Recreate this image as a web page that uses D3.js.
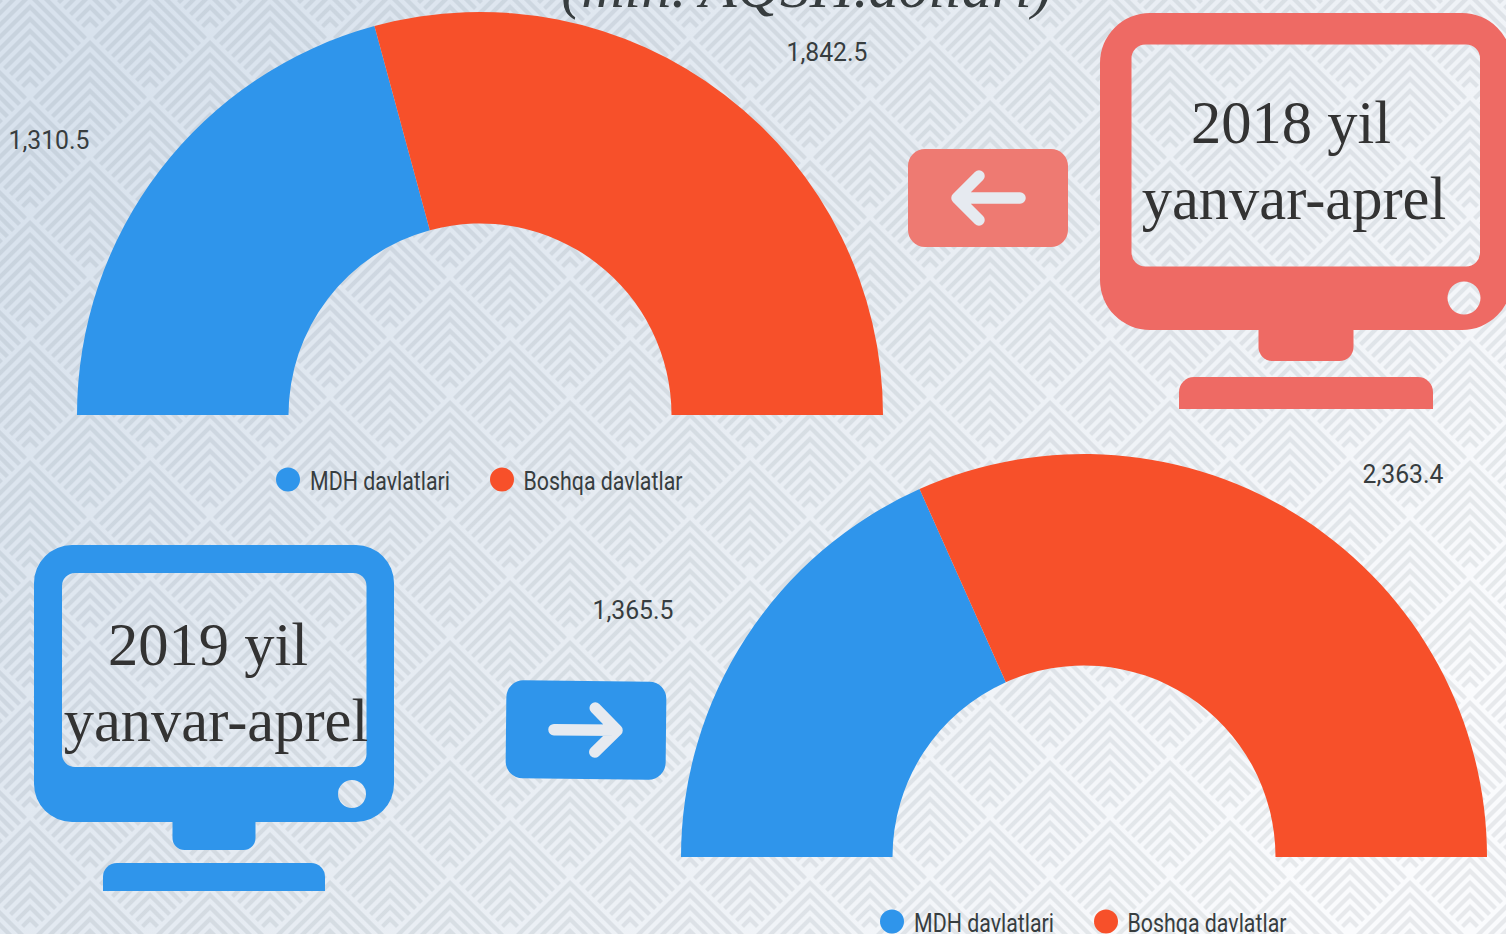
<!DOCTYPE html>
<html><head><meta charset="utf-8">
<script src="https://cdn.jsdelivr.net/npm/d3@7"></script>
<style>html,body{margin:0;padding:0;overflow:hidden;background:#e6ebf2}svg{display:block}</style>
</head><body><svg id="c" width="1506" height="934"></svg>
<script>
const categories=["MDH davlatlari","Boshqa davlatlar"];
const colors=["#2f95eb","#f7502a"];
const values2018=[1310.5,1842.5];
const values2019=[1365.5,2363.4];
const titleText="(mln. AQSH.dollari)";
const year2018=["2018 yil","yanvar-aprel"];
const year2019=["2019 yil","yanvar-aprel"];
const svg=d3.select("#c");
const defs=svg.append("defs");
const grad=defs.append("linearGradient").attr("id","bg").attr("x1",0).attr("y1",0.2).attr("x2",1).attr("y2",0.7);
[[0,"#d8e2ed"],[0.5,"#e8edf3"],[1,"#fafbfd"]].forEach(d=>grad.append("stop").attr("offset",d[0]).attr("stop-color",d[1]));
const pat=defs.append("pattern").attr("id","chev").attr("patternUnits","userSpaceOnUse").attr("width",120).attr("height",120);
function cell(g,cx,cy){
  for(let t=6;t<=102;t+=12){
    const a=(120-t)/2-1.5;
    g.append("path").attr("d",`M${cx-a} ${cy+t+a}L${cx} ${cy+t}L${cx+a} ${cy+t+a}`)
     .attr("fill","none").attr("stroke","#404b55").attr("stroke-opacity",0.1).attr("stroke-width",4.2);
  }
}
const pg=pat.append("g");
[[90,37],[-30,37],[30,97],[150,97],[30,-23],[150,-23],[90,-83],[-30,-83]].forEach(c=>cell(pg,c[0],c[1]));
svg.append("rect").attr("width",1506).attr("height",934).attr("fill","url(#bg)");
svg.append("rect").attr("width",1506).attr("height",934).attr("fill","url(#chev)");

const pie=d3.pie().sort(null).startAngle(-Math.PI/2).endAngle(Math.PI/2);
const arc=d3.arc().innerRadius(191.5).outerRadius(403);
function gauge(vals,cx,cy,labels,lx){
  const g=svg.append("g").attr("transform",`translate(${cx},${cy})`);
  g.selectAll("path").data(pie(vals)).join("path").attr("d",arc).attr("fill",(d,i)=>colors[i]);
  vals.forEach((v,i)=>svg.append("text").attr("x",labels[i][0]).attr("y",labels[i][1])
    .attr("text-anchor","middle").attr("font-family","Roboto").attr("font-size",26).attr("fill","#373d3f")
    .attr("textLength",81).attr("lengthAdjust","spacingAndGlyphs").text(d3.format(",.1f")(v)));
  const pos=[[lx,lx+22,140],[lx+214,lx+235.5,159]];
  categories.forEach((c,i)=>{
    svg.append("circle").attr("cx",pos[i][0]).attr("cy",cy+64.5).attr("r",12).attr("fill",colors[i]);
    svg.append("text").attr("x",pos[i][1]).attr("y",cy+75).attr("font-family","Roboto").attr("font-size",25.5).attr("fill","#373d3f")
      .attr("textLength",pos[i][2]).attr("lengthAdjust","spacingAndGlyphs").text(c);
  });
}
gauge(values2018,480,415,[[49,149],[827,61]],288);
gauge(values2019,1084,857,[[633,619],[1403,483]],892);

svg.append("text").attr("x",806.5).attr("y",7).attr("text-anchor","middle").attr("font-family","Liberation Serif").attr("font-style","italic")
  .attr("font-size",60).attr("fill","#373d3f").text(titleText);

function monitor(x,y,w,h,r,ix,iy,iw,ih,ir,col,btn,neck,base){
  let d=`M${x+r} ${y}H${x+w-r}A${r} ${r} 0 0 1 ${x+w} ${y+r}V${y+h-r}A${r} ${r} 0 0 1 ${x+w-r} ${y+h}H${x+r}A${r} ${r} 0 0 1 ${x} ${y+h-r}V${y+r}A${r} ${r} 0 0 1 ${x+r} ${y}Z`;
  d+=`M${ix+ir} ${iy}A${ir} ${ir} 0 0 0 ${ix} ${iy+ir}V${iy+ih-ir}A${ir} ${ir} 0 0 0 ${ix+ir} ${iy+ih}H${ix+iw-ir}A${ir} ${ir} 0 0 0 ${ix+iw} ${iy+ih-ir}V${iy+ir}A${ir} ${ir} 0 0 0 ${ix+iw-ir} ${iy}Z`;
  d+=`M${btn[0]-btn[2]} ${btn[1]}a${btn[2]} ${btn[2]} 0 1 0 ${2*btn[2]} 0a${btn[2]} ${btn[2]} 0 1 0 ${-2*btn[2]} 0Z`;
  svg.append("path").attr("d",d).attr("fill",col).attr("fill-rule","evenodd");
  const [nx,ny,nw,nh,nr]=neck;
  svg.append("path").attr("fill",col).attr("d",`M${nx} ${ny}H${nx+nw}V${ny+nh-nr}A${nr} ${nr} 0 0 1 ${nx+nw-nr} ${ny+nh}H${nx+nr}A${nr} ${nr} 0 0 1 ${nx} ${ny+nh-nr}Z`);
  const [bx,by,bw,bh,br]=base;
  svg.append("path").attr("fill",col).attr("d",`M${bx} ${by+bh}V${by+br}A${br} ${br} 0 0 1 ${bx+br} ${by}H${bx+bw-br}A${br} ${br} 0 0 1 ${bx+bw} ${by+br}V${by+bh}Z`);
}
monitor(1100,13,412,317,50,1131.5,44.5,348.5,222,14,"#ee6a64",[1464,298,16.5],[1258.5,328,95,33,14],[1179,377,254,32,15]);
monitor(34,545,360,277,38,62,573,304.5,194,13,"#2f95eb",[352,794,14],[172.5,820,83,30,12],[103,863,222,28,14]);

function lines(t,x,y1,y2){
  svg.append("text").attr("x",x[0]).attr("y",y1).attr("text-anchor","middle").attr("font-family","Liberation Serif").attr("font-size",60.5).attr("fill","#333").text(t[0]);
  svg.append("text").attr("x",x[1]).attr("y",y2).attr("text-anchor","middle").attr("font-family","Liberation Serif").attr("font-size",60.5).attr("fill","#333").text(t[1]);
}
lines(year2018,[1291,1294],143,219);
lines(year2019,[208,216],665,741);

function button(x,y,w,h,col,dir,rot){
  const g=svg.append("g").attr("transform",`rotate(${rot} ${x+w/2} ${y+h/2})`);
  g.append("rect").attr("x",x).attr("y",y).attr("width",w).attr("height",h).attr("rx",17).attr("fill",col);
  const cx=x+w/2,cy=y+h/2,s=dir;
  g.append("path").attr("d",`M${cx-s*32} ${cy}H${cx+s*31}M${cx+s*9} ${cy-22}L${cx+s*31} ${cy}L${cx+s*9} ${cy+22}`)
    .attr("fill","none").attr("stroke","#e6eaf0").attr("stroke-width",11.5).attr("stroke-linecap","round").attr("stroke-linejoin","round");
}
button(908,149,160,98,"#ee7a72",-1,0);
button(506,681,160,98,"#2f95eb",1,0.6);
</script></body></html>
